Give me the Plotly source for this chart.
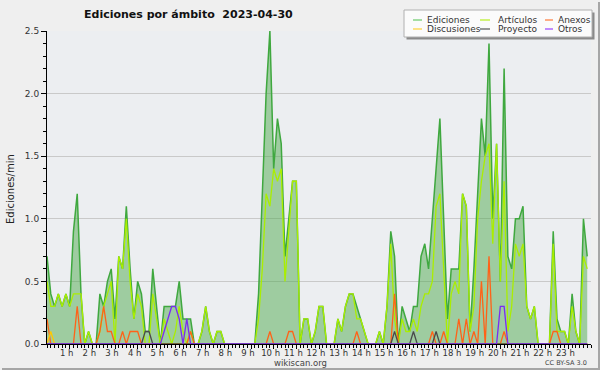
import plotly.graph_objects as go

# 10-minute slots of the day (0 .. 143)
slots = list(range(144))

ediciones = [
    0.7, 0.4, 0.3, 0.4, 0.3, 0.4, 0.3, 0.9, 1.2, 0.4,
    0, 0.1, 0, 0, 0.4, 0.3, 0.5, 0.6, 0.2, 0.7,
    0.6, 1.1, 0.6, 0.2, 0.5, 0.4, 0.1, 0.1, 0.6, 0.3,
    0, 0.3, 0.3, 0.3, 0.3, 0.5, 0.2, 0.2, 0.2, 0,
    0, 0.1, 0.3, 0.1, 0, 0.1, 0.1, 0, 0, 0,
    0, 0, 0, 0, 0, 0, 0.4, 1.2, 2.0, 2.5,
    1.4, 1.8, 1.6, 0.7, 1.0, 1.3, 1.3, 0, 0.2, 0.2,
    0, 0.1, 0.3, 0.3, 0, 0, 0, 0.2, 0.1, 0.3,
    0.4, 0.4, 0.3, 0.2, 0.1, 0, 0, 0, 0.1, 0,
    0.3, 0.9, 0.7, 0, 0.3, 0.2, 0.1, 0.3, 0.3, 0.7,
    0.8, 0.6, 1.0, 1.4, 1.8, 1.0, 0.2, 0.6, 0.6, 0.6,
    1.2, 1.1, 0.1, 0.6, 1.2, 1.8, 1.5, 2.4, 1.0, 1.6,
    0.5, 2.2, 0.7, 0.6, 1.0, 1.0, 1.1, 0.3, 0.2, 0.3,
    0, 0, 0, 0, 0.9, 0.2, 0.1, 0.1, 0, 0.4,
    0.1, 0, 1.0, 0.7,
]

articulos = [
    0.5, 0.3, 0.3, 0.4, 0.3, 0.4, 0.3, 0.4, 0.4, 0.4,
    0, 0.1, 0, 0, 0.1, 0.3, 0.4, 0.5, 0, 0.7,
    0.6, 1.0, 0.5, 0.2, 0.4, 0.3, 0, 0, 0.4, 0.2,
    0, 0.2, 0.1, 0, 0.1, 0.3, 0.1, 0, 0.1, 0,
    0, 0.1, 0.3, 0.1, 0, 0.1, 0.1, 0, 0, 0,
    0, 0, 0, 0, 0, 0, 0.2, 0.6, 1.2, 1.1,
    1.4, 1.3, 1.4, 0.5, 0.9, 1.3, 1.3, 0, 0.2, 0.2,
    0, 0.1, 0.3, 0.3, 0, 0, 0, 0.2, 0.1, 0.3,
    0.4, 0.4, 0.2, 0.2, 0.1, 0, 0, 0, 0.1, 0,
    0.3, 0.8, 0.2, 0, 0.2, 0.1, 0.1, 0.2, 0.1, 0.3,
    0.4, 0.4, 0.5, 1.1, 1.2, 0.6, 0, 0.4, 0.5, 0.4,
    1.2, 1.1, 0.1, 0.3, 1.0, 1.3, 1.5, 1.6, 0.8, 1.6,
    0.5, 1.3, 0.1, 0.3, 0.8, 0.7, 0.8, 0.3, 0.2, 0.3,
    0, 0, 0, 0, 0.8, 0.1, 0.1, 0.1, 0, 0.3,
    0.1, 0, 0.7, 0.6,
]

anexos = [
    0.2, 0, 0, 0, 0, 0, 0, 0, 0.3, 0,
    0, 0, 0, 0, 0.1, 0.3, 0.1, 0.1, 0, 0,
    0.1, 0, 0.1, 0.1, 0.1, 0, 0, 0, 0, 0,
    0, 0, 0, 0, 0, 0, 0, 0, 0.1, 0,
    0, 0, 0, 0, 0, 0, 0, 0, 0, 0,
    0, 0, 0, 0, 0, 0, 0, 0, 0, 0.1,
    0, 0, 0, 0, 0.1, 0.1, 0, 0, 0, 0,
    0, 0, 0, 0, 0, 0, 0, 0, 0, 0,
    0, 0, 0.1, 0, 0, 0, 0, 0, 0, 0,
    0, 0, 0.4, 0, 0, 0, 0, 0, 0, 0,
    0, 0, 0.1, 0, 0, 0.1, 0, 0, 0, 0.2,
    0, 0.2, 0, 0.1, 0, 0.5, 0, 0.7, 0, 0,
    0, 0.1, 0, 0, 0, 0, 0, 0, 0, 0,
    0, 0, 0, 0, 0.1, 0.1, 0, 0, 0, 0,
    0, 0, 0, 0,
]

discusiones = [
    0, 0.1, 0, 0, 0, 0, 0, 0, 0, 0,
    0, 0, 0, 0, 0, 0, 0, 0, 0, 0,
    0, 0, 0, 0, 0, 0, 0, 0, 0, 0,
    0, 0, 0, 0, 0, 0, 0, 0, 0, 0,
    0, 0, 0, 0, 0, 0, 0, 0, 0, 0,
    0, 0, 0, 0, 0, 0, 0, 0, 0, 0,
    0, 0, 0, 0, 0, 0, 0, 0, 0, 0,
    0, 0, 0, 0, 0, 0, 0, 0, 0, 0,
    0, 0, 0, 0, 0, 0, 0, 0, 0, 0,
    0, 0, 0, 0, 0, 0, 0, 0, 0, 0,
    0, 0, 0, 0, 0, 0, 0, 0, 0, 0,
    0, 0, 0, 0, 0, 0, 0, 0, 0, 0,
    0, 0, 0, 0, 0, 0, 0, 0, 0, 0,
    0, 0, 0, 0, 0, 0, 0, 0, 0, 0,
    0, 0, 0, 0,
]

proyecto = [
    0, 0, 0, 0, 0, 0, 0, 0, 0, 0,
    0, 0, 0, 0, 0, 0, 0, 0, 0, 0,
    0, 0, 0, 0, 0, 0, 0.1, 0.1, 0, 0,
    0, 0, 0, 0, 0, 0, 0, 0, 0, 0,
    0, 0, 0, 0, 0, 0, 0, 0, 0, 0,
    0, 0, 0, 0, 0, 0, 0, 0, 0, 0,
    0, 0, 0, 0, 0, 0, 0, 0, 0, 0,
    0, 0, 0, 0, 0, 0, 0, 0, 0, 0,
    0, 0, 0, 0, 0, 0, 0, 0, 0, 0,
    0, 0, 0.1, 0, 0, 0, 0, 0.1, 0, 0,
    0, 0, 0, 0.1, 0, 0, 0, 0, 0, 0,
    0, 0, 0, 0, 0, 0, 0, 0, 0, 0,
    0, 0, 0, 0, 0, 0, 0, 0, 0, 0,
    0, 0, 0, 0, 0, 0, 0, 0, 0, 0,
    0, 0, 0, 0,
]

otros = [
    0, 0, 0, 0, 0, 0, 0, 0, 0, 0,
    0, 0, 0, 0, 0, 0, 0, 0, 0, 0,
    0, 0, 0, 0, 0, 0, 0, 0, 0, 0,
    0, 0.1, 0.2, 0.3, 0.3, 0.2, 0, 0.2, 0, 0,
    0, 0, 0, 0, 0, 0, 0, 0, 0, 0,
    0, 0, 0, 0, 0, 0, 0, 0, 0, 0,
    0, 0, 0, 0, 0, 0, 0, 0, 0, 0,
    0, 0, 0, 0, 0, 0, 0, 0, 0, 0,
    0, 0, 0, 0, 0, 0, 0, 0, 0, 0,
    0, 0, 0, 0, 0, 0, 0, 0, 0, 0,
    0, 0, 0, 0, 0, 0, 0, 0, 0, 0,
    0, 0, 0, 0, 0, 0, 0, 0, 0, 0,
    0.3, 0.3, 0, 0, 0, 0, 0, 0, 0, 0,
    0, 0, 0, 0, 0, 0, 0, 0, 0, 0,
    0, 0, 0, 0,
]

hour_ticks = list(range(1, 24))
hour_labels = [f"{h} h" for h in hour_ticks]
y_ticks = [0.0, 0.5, 1.0, 1.5, 2.0, 2.5]

series_names = ["Ediciones", "Artículos", "Anexos", "Discusiones", "Proyecto", "Otros"]
series_colors = ["#3fa83f", "#aaee00", "#ff6218", "#ffc800", "#4a4a4a", "#7a2cf0"]
legend_colors = ["#6ccc6c", "#b8ee22", "#ff7a3a", "#ffd23a", "#555555", "#9a44ff"]

x = [s / 6 for s in slots]

FONT = "DejaVu Sans"
W, H = 600, 370
L, R, T, B = 47, 9, 31, 26
PW, PH = W - L - R, H - T - B


def px(xp):
    return (xp - L) / PW


def py(yp):
    return (H - B - yp) / PH


fig = go.Figure()
fig.add_trace(go.Scatter(x=x, y=ediciones, mode="lines", fill="tozeroy",
                         fillcolor="rgba(80,170,80,0.5)",
                         line=dict(color=series_colors[0], width=1.5),
                         name=series_names[0], showlegend=False))
for name, col, vals in zip(series_names[1:], series_colors[1:],
                           [articulos, anexos, discusiones, proyecto, otros]):
    fig.add_trace(go.Scatter(x=x, y=vals, mode="lines",
                             line=dict(color=col, width=1.3),
                             name=name, showlegend=False))

shapes = []
annotations = []

# outer frame shadow (right and bottom edges of the image)
shapes.append(dict(type="rect", xref="paper", yref="paper",
                   x0=px(598), x1=px(600), y0=py(370), y1=py(2),
                   line=dict(width=0), fillcolor="#a6a6a6", layer="above"))
shapes.append(dict(type="rect", xref="paper", yref="paper",
                   x0=px(2), x1=px(600), y0=py(370), y1=py(368),
                   line=dict(width=0), fillcolor="#a6a6a6", layer="above"))

# legend box with shadow
shapes.append(dict(type="rect", xref="paper", yref="paper",
                   x0=px(406.5), x1=px(594.5), y0=py(39.5), y1=py(12.5),
                   line=dict(width=0), fillcolor="#8a8a8a", layer="above"))
shapes.append(dict(type="rect", xref="paper", yref="paper",
                   x0=px(404), x1=px(592), y0=py(37), y1=py(10),
                   line=dict(width=1, color="#b0b0b0"), fillcolor="#fbfbfb", layer="above"))

col_sw = [(413, 422, 425), (480, 490, 496), (545, 553, 556)]
rows = [20, 29]
for k, (name, col) in enumerate(zip(series_names, legend_colors)):
    r, c = divmod(k, 3)
    x0s, x1s, xt = col_sw[c]
    yy = rows[r]
    shapes.append(dict(type="line", xref="paper", yref="paper",
                       x0=px(x0s), x1=px(x1s), y0=py(yy), y1=py(yy),
                       line=dict(color=col, width=1.2), layer="above"))
    annotations.append(dict(text=name, xref="paper", yref="paper",
                            x=px(xt), y=py(yy), xanchor="left", yanchor="middle",
                            showarrow=False, font=dict(family=FONT, size=9, color="#333333")))

annotations.append(dict(text="Ediciones por ámbito\u00a0\u00a02023-04-30",
                        xref="paper", yref="paper", x=px(188), y=py(14),
                        xanchor="center", yanchor="middle", showarrow=False,
                        font=dict(family=FONT, size=11, color="#111111", weight="bold")))
annotations.append(dict(text="Ediciones/min", xref="paper", yref="paper",
                        x=px(10), y=py(189), textangle=-90,
                        xanchor="center", yanchor="middle", showarrow=False,
                        font=dict(family=FONT, size=10, color="#222222")))
annotations.append(dict(text="wikiscan.org", xref="paper", yref="paper",
                        x=px(300), y=py(362.5), xanchor="center", yanchor="middle",
                        showarrow=False, font=dict(family=FONT, size=8.5, color="#444444")))
annotations.append(dict(text="CC BY-SA 3.0", xref="paper", yref="paper",
                        x=px(589), y=py(363), xanchor="right", yanchor="middle",
                        showarrow=False, font=dict(family=FONT, size=6.5, color="#444444")))

fig.update_layout(
    width=W, height=H,
    margin=dict(l=L, r=R, t=T, b=B, pad=0),
    paper_bgcolor="#efefef",
    plot_bgcolor="#eceef1",
    shapes=shapes,
    annotations=annotations,
    showlegend=False,
    font=dict(family=FONT, size=9, color="#333333"),
)
fig.update_xaxes(range=[0, 24], tickvals=hour_ticks, ticktext=hour_labels,
                 showgrid=False, zeroline=False, showline=True, linecolor="#000000",
                 linewidth=1, ticks="outside", ticklen=4, tickcolor="#000000",
                 tickfont=dict(family=FONT, size=8.5, color="#333333"),
                 ticklabelshift=-3, ticklabelstandoff=-3,
                 minor=dict(dtick=1 / 6, tick0=0, ticks="outside", ticklen=3,
                            tickcolor="#000000", showgrid=False))
fig.update_yaxes(range=[0, 2.5], tickvals=y_ticks, tickformat=".1f",
                 showgrid=True, gridcolor="#c9c9c9", gridwidth=1, zeroline=False,
                 showline=True, linecolor="#000000", linewidth=1,
                 ticks="outside", ticklen=5, tickcolor="#000000",
                 tickfont=dict(family=FONT, size=9, color="#333333"),
                 minor=dict(dtick=0.1, tick0=0, ticks="outside", ticklen=3,
                            tickcolor="#000000", showgrid=False))

fig.write_html("out.html", config={"displayModeBar": False},
               post_script="document.body.style.margin='0';document.body.style.background='#efefef';")
